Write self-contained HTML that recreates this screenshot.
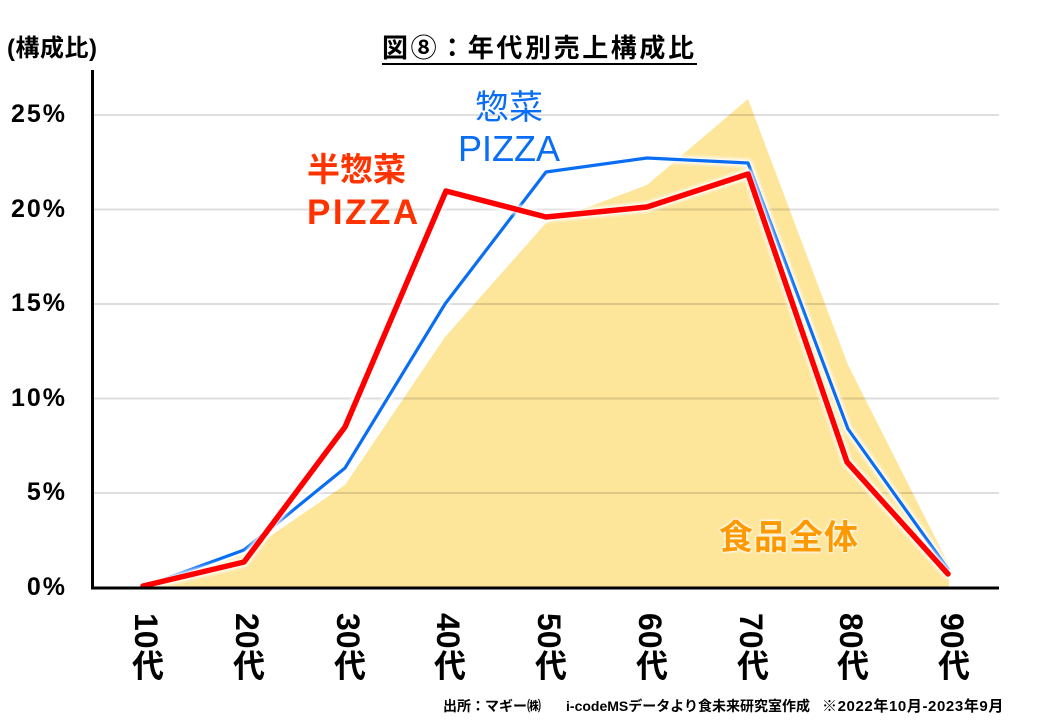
<!DOCTYPE html>
<html><head><meta charset="utf-8">
<style>
html,body{margin:0;padding:0;background:#fff;}
body{width:1040px;height:720px;position:relative;overflow:hidden;font-family:"Liberation Sans","Noto Sans CJK JP",sans-serif;}
.a{position:absolute;white-space:nowrap;line-height:1;}
.yl{position:absolute;right:973px;font-weight:bold;font-size:25px;letter-spacing:2px;line-height:1;color:#000;}
.xl{position:absolute;top:613px;writing-mode:vertical-rl;font-weight:bold;font-size:32px;line-height:32px;width:32px;color:#000;}
</style></head><body>
<svg width="1040" height="720" style="position:absolute;left:0;top:0">
<defs>
<filter id="glow" x="-5%" y="-5%" width="110%" height="110%">
<feGaussianBlur stdDeviation="1.6"/>
</filter>
</defs>
<polygon points="143,588 244,554 345,485 445,337 546,223 647,185 748,99 848,365 949,565 949,588" fill="#fde599"/>
<g stroke="rgba(0,0,0,0.13)" stroke-width="2">
<line x1="93" y1="115" x2="999" y2="115"/>
<line x1="93" y1="209.5" x2="999" y2="209.5"/>
<line x1="93" y1="304" x2="999" y2="304"/>
<line x1="93" y1="398.5" x2="999" y2="398.5"/>
<line x1="93" y1="493" x2="999" y2="493"/>
</g>
<polyline points="143,587 244,550 345,468 445,304 546,172 647,158 748,163 848,429 948,569" fill="none" stroke="#fff" stroke-width="8" stroke-linejoin="round" stroke-linecap="round" filter="url(#glow)" opacity="0.9"/>
<polyline points="143,587 244,550 345,468 445,304 546,172 647,158 748,163 848,429 948,569" fill="none" stroke="#0a6ef5" stroke-width="3.2" stroke-linejoin="round" stroke-linecap="round"/>
<polyline points="143,586 244,562 345,427 446,191 546,217 647,207 748,174 847,462 948,574" fill="none" stroke="#fff" stroke-width="10" stroke-linejoin="round" stroke-linecap="round" filter="url(#glow)" opacity="0.9"/>
<polyline points="143,586 244,562 345,427 446,191 546,217 647,207 748,174 847,462 948,574" fill="none" stroke="#ff0000" stroke-width="5.5" stroke-linejoin="round" stroke-linecap="round"/>
<line x1="92.5" y1="70" x2="92.5" y2="589.5" stroke="#000" stroke-width="3"/>
<line x1="91" y1="588" x2="999" y2="588" stroke="#000" stroke-width="3"/>
</svg>

<div class="a" style="left:7px;top:37px;font-size:24px;font-weight:bold;letter-spacing:0.5px;">(構成比)</div>
<div class="a" style="left:382px;top:35px;font-size:26px;font-weight:bold;letter-spacing:2.6px;border-bottom:2px solid #000;padding-bottom:2px;">図⑧：年代別売上構成比</div>

<div class="yl" style="top:102px">25%</div>
<div class="yl" style="top:197px">20%</div>
<div class="yl" style="top:291px">15%</div>
<div class="yl" style="top:386px">10%</div>
<div class="yl" style="top:480px">5%</div>
<div class="yl" style="top:575px">0%</div>

<div class="a" style="left:475px;top:91px;font-size:34px;color:#0a6ef5;">惣菜</div>
<div class="a" style="left:458px;top:131px;font-size:36px;color:#0a6ef5;">PIZZA</div>

<div class="a" style="left:307px;top:153px;font-size:33px;font-weight:bold;color:#ff3300;">半惣菜</div>
<div class="a" style="left:307px;top:195px;font-size:35px;font-weight:bold;color:#ff3300;letter-spacing:2.5px;">PIZZA</div>

<div class="a" style="left:719px;top:521px;font-size:34px;font-weight:bold;color:#ff9900;letter-spacing:1px;text-shadow:0 0 3px #fff,0 0 3px #fff,0 0 2px #fff;">食品全体</div>

<div class="xl" style="left:130px">10代</div>
<div class="xl" style="left:231px">20代</div>
<div class="xl" style="left:332px">30代</div>
<div class="xl" style="left:432px">40代</div>
<div class="xl" style="left:533px">50代</div>
<div class="xl" style="left:634px">60代</div>
<div class="xl" style="left:735px">70代</div>
<div class="xl" style="left:835px">80代</div>
<div class="xl" style="left:936px">90代</div>

<div class="a" style="left:443px;top:699px;font-size:14px;font-weight:bold;">出所：マギー㈱</div>
<div class="a" style="right:230px;top:699px;font-size:14px;font-weight:bold;">i-codeMSデータより食未来研究室作成</div>
<div class="a" style="left:822px;top:699px;font-size:15px;font-weight:bold;letter-spacing:0.6px;">※2022年10月-2023年9月</div>
</body></html>
